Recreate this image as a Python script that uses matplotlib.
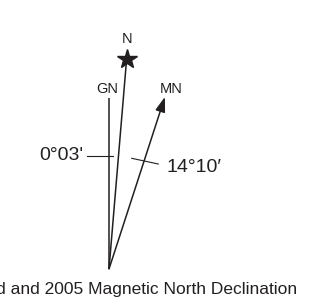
import numpy as np
import matplotlib.pyplot as plt

plt.rcParams['font.family'] = ['Liberation Sans', 'DejaVu Sans']

# bearings of the three north lines (deg from vertical) and their drawn lengths
names = ["GN", "N", "MN"]
angles = [0.0, 4.8, 18.0]
lengths = [171, 211, 181]

# declinations written on the diagram
decl_labels = ["0°03'", "14°10′"]
caption = "Grid and 2005 Magnetic North Declination"

ink = '#231f20'

fig = plt.figure(figsize=(3.10, 3.06), dpi=100)
ax = fig.add_axes([0, 0, 1, 1])
ax.set_xlim(-109, 201)
ax.set_ylim(-37, 269)
ax.axis('off')

ends = {}
for name, a, L in zip(names, angles, lengths):
    t = np.radians(a)
    ends[name] = (L * np.sin(t), L * np.cos(t))

# grid north
gx, gy = ends["GN"]
ax.plot([0, gx], [0, gy], color=ink, lw=1.1, solid_capstyle='butt')
ax.text(gx - 2, gy + 5, "GN", ha='center', va='baseline', fontsize=10.5, color=ink)

# true north with star
nx, ny = ends["N"]
ax.plot([0, nx], [0, ny], color=ink, lw=1.1, solid_capstyle='butt')
ax.plot(nx, ny, marker='*', ms=15, color=ink, mec=ink)
ax.text(nx, ny + 16, "N", ha='center', va='baseline', fontsize=10.5, color=ink)

# magnetic north arrow
mx, my = ends["MN"]
ax.annotate('', xy=(mx, my), xytext=(0, 0),
            arrowprops=dict(arrowstyle='-|>,head_length=0.45,head_width=0.15',
                            mutation_scale=20, lw=1.1, color=ink,
                            shrinkA=0, shrinkB=0))
ax.text(mx + 6, my + 4, "MN", ha='center', va='baseline', fontsize=10.5, color=ink)

# declination ticks
ax.plot([-22, 4], [113, 113], color=ink, lw=0.8)
ax.text(-26, 109, decl_labels[0], ha='right', va='baseline', fontsize=14, color=ink)
ax.plot([22.7, 49.3], [110.7, 105], color=ink, lw=0.8)
ax.text(57.5, 97, decl_labels[1], ha='left', va='baseline', fontsize=14, color=ink)

ax.text(188, -25, caption, ha='right', va='baseline', fontsize=12.5, color=ink)

fig.savefig('out.png', dpi=100)
